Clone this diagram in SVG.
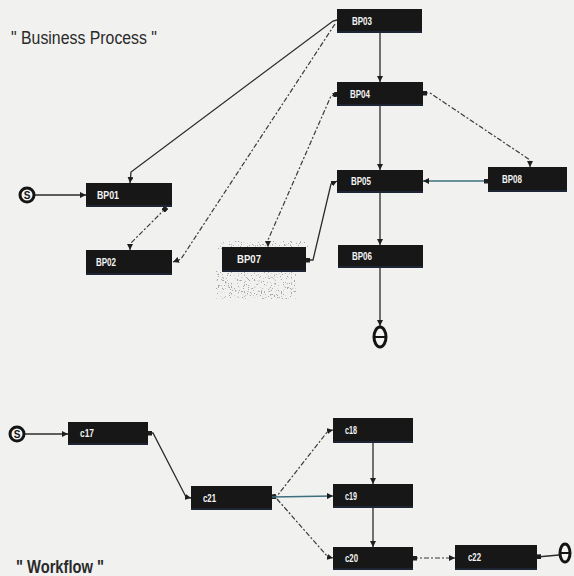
<svg xmlns="http://www.w3.org/2000/svg" width="574" height="576" viewBox="0 0 574 576">
  <style>
    .node rect.box { fill: #171718; }
    .node rect.edge { fill: #23304a; opacity: 0.6; }
    .lbl { font-family: "Liberation Sans", Arial, sans-serif; font-weight: bold; font-size: 10px; fill: #f4f4f4; }
    .title { font-family: "Liberation Sans", Arial, sans-serif; font-size: 18px; fill: #2a2a2a; }
    .solid { fill: none; stroke: #2b2b2b; stroke-width: 1.3; }
    .dash { fill: none; stroke: #3a3a3a; stroke-width: 1.2; stroke-dasharray: 5 2 2 2; }
    .teal { fill: none; stroke: #3d6f80; stroke-width: 1.4; }
    .term { fill: #f4f4f2; stroke: #141414; stroke-width: 3; }
    .termtxt { font-family: "Liberation Sans", Arial, sans-serif; font-weight: bold; font-size: 10px; fill: #141414; }
  </style>
  <defs>
    <marker id="arr" viewBox="0 0 6 6" refX="6" refY="3" markerWidth="6" markerHeight="6" markerUnits="userSpaceOnUse" orient="auto">
      <path d="M0,0 L6,3 L0,6 z" fill="#1e1e1e"/>
    </marker>
    <marker id="knob" viewBox="0 0 6 6" refX="1" refY="3" markerWidth="5" markerHeight="5" markerUnits="userSpaceOnUse" orient="auto">
      <rect x="0" y="0" width="6" height="6" fill="#1e1e1e"/>
    </marker>
    <filter id="grain" x="0" y="0" width="1" height="1">
      <feTurbulence type="fractalNoise" baseFrequency="0.7" numOctaves="2" seed="7" result="n"/>
      <feColorMatrix in="n" type="matrix" values="0 0 0 0 0.3  0 0 0 0 0.3  0 0 0 0 0.3  14 0 0 0 -8.6"/>
    </filter>
  </defs>

  <rect width="574" height="576" fill="#f1f1ef"/>

  <!-- scanner grain around BP07 -->
  <rect x="218" y="241" width="90" height="8" filter="url(#grain)" opacity="0.8"/>
  <rect x="216" y="271" width="80" height="28" filter="url(#grain)" opacity="0.8"/>

  <!-- section titles -->
  <text class="title" x="11" y="44" textLength="146" lengthAdjust="spacingAndGlyphs">" Business Process "</text>
  <text class="title" x="16" y="573" font-weight="bold" textLength="88" lengthAdjust="spacingAndGlyphs">" Workflow "</text>

  <!-- connectors -->
  <g id="connectors">
    <!-- business process -->
    <path class="solid" d="M34,195 L86,195" marker-end="url(#arr)"/>
    <path class="solid" d="M337,20 L333,21 L131,172 L130,183" marker-end="url(#arr)"/>
    <path class="dash" d="M335,24 L181,259 L173,262" marker-end="url(#arr)"/>
    <path class="dash" d="M166,208 L130,244 L130,250" marker-start="url(#knob)" marker-end="url(#arr)"/>
    <path class="dash" d="M337,94 L331,96 L268,240 L268,247" marker-start="url(#knob)" marker-end="url(#arr)"/>
    <path class="solid" d="M306,260 L313,260 L331,184 L337,181" marker-start="url(#knob)" marker-end="url(#arr)"/>
    <path class="solid" d="M380,33 L380,82" marker-end="url(#arr)"/>
    <path class="solid" d="M380,106 L380,170" marker-end="url(#arr)"/>
    <path class="solid" d="M380,193 L380,245" marker-end="url(#arr)"/>
    <path class="solid" d="M380,268 L380,326" marker-end="url(#arr)"/>
    <path class="dash" d="M423,93 L430,93 L530,160 L530,167" marker-start="url(#knob)" marker-end="url(#arr)"/>
    <path class="teal" d="M488,181 L423,181" marker-start="url(#knob)" marker-end="url(#arr)"/>
    <!-- workflow -->
    <path class="solid" d="M25,434 L68,434" marker-end="url(#arr)"/>
    <path class="solid" d="M148,433 L153,433 L186,497 L191,498" marker-start="url(#knob)" marker-end="url(#arr)"/>
    <path class="dash" d="M272,497 L277,496 L328,431 L333,430" marker-start="url(#knob)" marker-end="url(#arr)"/>
    <path class="teal" d="M272,497 L333,496" marker-end="url(#arr)"/>
    <path class="dash" d="M277,499 L328,557 L333,558" marker-end="url(#arr)"/>
    <path class="solid" d="M373,443 L373,484" marker-end="url(#arr)"/>
    <path class="solid" d="M373,508 L373,547" marker-end="url(#arr)"/>
    <path class="dash" d="M413,558 L455,558" marker-start="url(#knob)" marker-end="url(#arr)"/>
    <path class="solid" d="M537,557 L559,555" marker-start="url(#knob)"/>
  </g>

  <!-- terminals -->
  <g id="bp-start">
    <circle class="term" cx="27" cy="195" r="7"/>
    <text class="termtxt" x="27" y="199" text-anchor="middle">S</text>
  </g>
  <g id="bp-end">
    <ellipse class="term" cx="380" cy="337" rx="6" ry="10"/>
    <path d="M375,337 L385,337" stroke="#141414" stroke-width="2"/>
  </g>
  <g id="wf-start">
    <circle class="term" cx="17" cy="434" r="7"/>
    <text class="termtxt" x="17" y="438" text-anchor="middle">S</text>
  </g>
  <g id="wf-end">
    <ellipse class="term" cx="565" cy="553" rx="5" ry="9"/>
    <path d="M560,553 L570,553" stroke="#141414" stroke-width="2"/>
  </g>

  <!-- business process nodes -->
  <g id="BP01" class="node"><rect class="box" x="86" y="183" width="86" height="24"/><rect class="edge" x="86" y="205" width="86" height="2"/><text class="lbl" x="97" y="199" textLength="22" lengthAdjust="spacingAndGlyphs">BP01</text></g>
  <g id="BP02" class="node"><rect class="box" x="86" y="250" width="86" height="25"/><rect class="edge" x="86" y="273" width="86" height="2"/><text class="lbl" x="96" y="266" textLength="20" lengthAdjust="spacingAndGlyphs">BP02</text></g>
  <g id="BP03" class="node"><rect class="box" x="337" y="9" width="85" height="24"/><rect class="edge" x="337" y="31" width="85" height="2"/><text class="lbl" x="352" y="25" textLength="20" lengthAdjust="spacingAndGlyphs">BP03</text></g>
  <g id="BP04" class="node"><rect class="box" x="337" y="82" width="86" height="24"/><rect class="edge" x="337" y="104" width="86" height="2"/><text class="lbl" x="350" y="98" textLength="20" lengthAdjust="spacingAndGlyphs">BP04</text></g>
  <g id="BP05" class="node"><rect class="box" x="337" y="170" width="86" height="23"/><rect class="edge" x="337" y="191" width="86" height="2"/><text class="lbl" x="351" y="185" textLength="20" lengthAdjust="spacingAndGlyphs">BP05</text></g>
  <g id="BP06" class="node"><rect class="box" x="338" y="245" width="85" height="23"/><rect class="edge" x="338" y="266" width="85" height="2"/><text class="lbl" x="352" y="260" textLength="20" lengthAdjust="spacingAndGlyphs">BP06</text></g>
  <g id="BP07" class="node"><rect class="box" x="222" y="247" width="84" height="25"/><rect class="edge" x="222" y="270" width="84" height="2"/><text class="lbl" x="237" y="263" textLength="24" lengthAdjust="spacingAndGlyphs">BP07</text></g>
  <g id="BP08" class="node"><rect class="box" x="488" y="167" width="79" height="25"/><rect class="edge" x="488" y="190" width="79" height="2"/><text class="lbl" x="502" y="183" textLength="20" lengthAdjust="spacingAndGlyphs">BP08</text></g>

  <!-- workflow nodes -->
  <g id="c17" class="node"><rect class="box" x="68" y="422" width="80" height="23"/><rect class="edge" x="68" y="443" width="80" height="2"/><text class="lbl" x="80" y="437" textLength="14" lengthAdjust="spacingAndGlyphs">c17</text></g>
  <g id="c21" class="node"><rect class="box" x="191" y="486" width="81" height="24"/><rect class="edge" x="191" y="508" width="81" height="2"/><text class="lbl" x="203" y="502" textLength="13" lengthAdjust="spacingAndGlyphs">c21</text></g>
  <g id="c18" class="node"><rect class="box" x="333" y="418" width="80" height="25"/><rect class="edge" x="333" y="441" width="80" height="2"/><text class="lbl" x="345" y="434" textLength="12" lengthAdjust="spacingAndGlyphs">c18</text></g>
  <g id="c19" class="node"><rect class="box" x="333" y="484" width="80" height="24"/><rect class="edge" x="333" y="506" width="80" height="2"/><text class="lbl" x="345" y="500" textLength="12" lengthAdjust="spacingAndGlyphs">c19</text></g>
  <g id="c20" class="node"><rect class="box" x="333" y="547" width="80" height="23"/><rect class="edge" x="333" y="568" width="80" height="2"/><text class="lbl" x="345" y="562" textLength="13" lengthAdjust="spacingAndGlyphs">c20</text></g>
  <g id="c22" class="node"><rect class="box" x="455" y="545" width="82" height="25"/><rect class="edge" x="455" y="568" width="82" height="2"/><text class="lbl" x="468" y="561" textLength="13" lengthAdjust="spacingAndGlyphs">c22</text></g>
</svg>
